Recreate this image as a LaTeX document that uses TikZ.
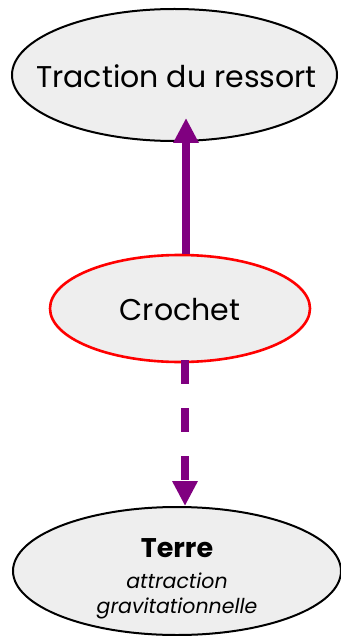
\documentclass[tikz,border=0pt]{standalone}
\usepackage{fontspec}
\setmainfont{Poppins}
\usetikzlibrary{shapes.geometric,arrows.meta}
\definecolor{bubble}{HTML}{EEEEEE}
\definecolor{force}{HTML}{800080}
\tikzset{
  actor/.style={ellipse, draw=black, line width=2pt, fill=bubble, inner sep=0pt},
  objet/.style={actor, draw=red, line width=2.6pt},
  caption/.style={align=center, text=black, inner sep=0pt},
  big/.style={caption, font=\fontsize{30}{34}\selectfont},
  pull/.style={draw=force, line width=8pt,
               -{Triangle[width=24pt,length=25pt]}},
  weight/.style={pull, dash pattern=on 24pt off 24pt},
}
\begin{document}
\begin{tikzpicture}[x=1pt,y=1pt]
  \useasboundingbox (0,0) rectangle (340,-636);
  % the three bodies
  \node[actor, minimum width=325pt, minimum height=132pt] (traction) at (174.5,-75) {};
  \node[big] (tractionlbl) at ([xshift=2pt,yshift=-1pt]traction.center) {Traction du ressort};
  \node[objet, minimum width=260pt, minimum height=107pt] (crochet) at (180,-308.5) {};
  \node[big] (crochetlbl) at ([yshift=-1pt]crochet.center) {Crochet};
  \node[actor, minimum width=328pt, minimum height=128pt] (terre) at (177,-571) {};
  \node[caption, font=\fontsize{20.5}{24.5}\selectfont\itshape, anchor=north]
    (terrelbl) at ([yshift=33pt]terre.center)
    {{\fontsize{27}{30}\selectfont\upshape\bfseries Terre}\\[7pt]
     attraction\\
     gravitationnelle};
  % forces acting on the hook
  \coordinate (tip1) at (186,-118);
  \draw[pull] (tip1 |- crochet.north) -- (tip1);
  \coordinate (tail2) at (185,-360);
  \draw[weight] (tail2) -- (tail2 |- terre.north);
\end{tikzpicture}
\end{document}
